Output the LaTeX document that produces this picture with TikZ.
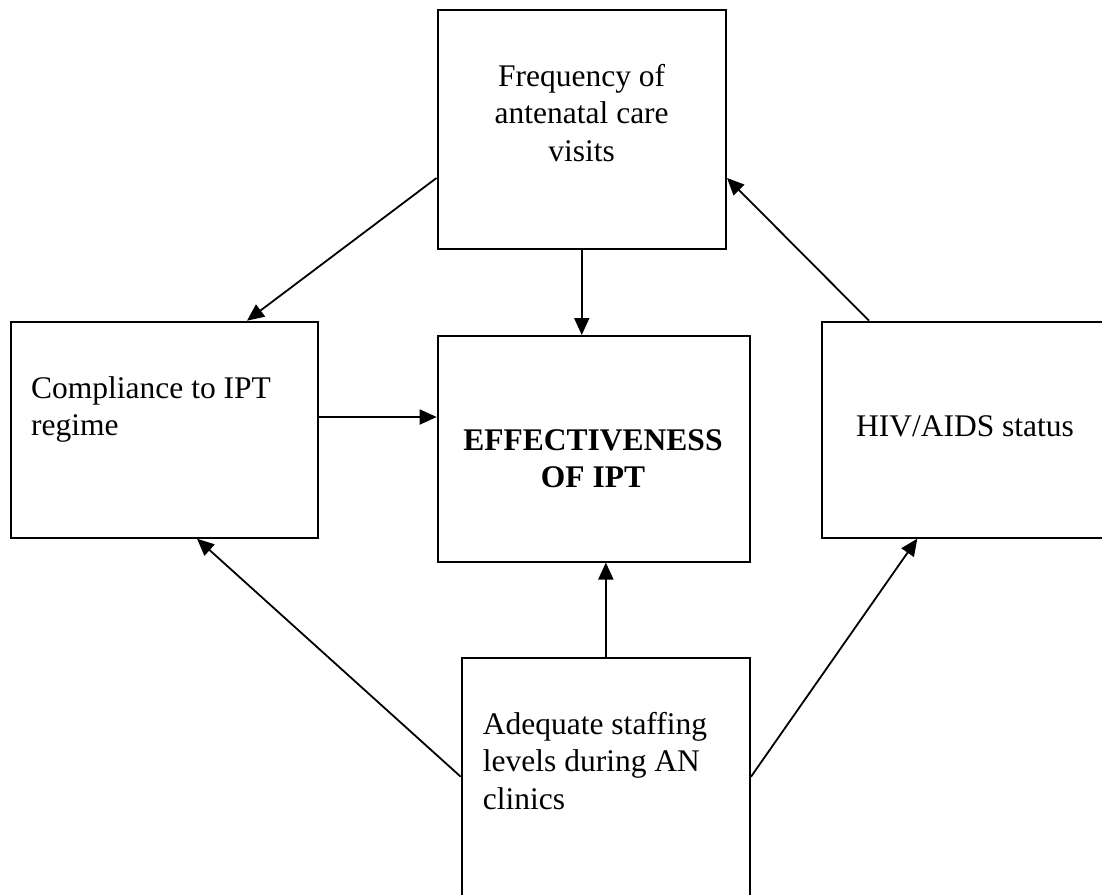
\documentclass[tikz,border=0pt]{standalone}
\usepackage{fontspec}
\setmainfont{Liberation Serif}
\usetikzlibrary{arrows.meta}
\tikzset{
  box/.style={draw, line width=2pt, rectangle, inner sep=0pt},
  lbl/.style={inner sep=0pt, font=\fontsize{31.5}{37.5}\selectfont},
  arr/.style={line width=1.8pt, -{Triangle[length=17pt,width=15pt]}}
}
\begin{document}
\begin{tikzpicture}[x=1pt,y=-1pt]
\useasboundingbox (0,0) rectangle (1102,894);
% boxes
\node[box, minimum width=288.5pt, minimum height=239pt] (top) at (581.75,129.5) {};
\node[box, minimum width=307.3pt, minimum height=216pt] (left) at (164.35,429.7) {};
\node[box, minimum width=312.3pt, minimum height=225.5pt] (eff) at (593.85,448.75) {};
\node[box, minimum width=286.6pt, minimum height=216pt] (right) at (965,429.7) {};
\node[box, minimum width=288.3pt, minimum height=244pt] (bottom) at (605.85,780) {};
% texts
\node[lbl, anchor=base] (ttop) at (581.7,86) {\parbox[t]{280pt}{\centering Frequency of\\antenatal care\\visits}};
\node[lbl, anchor=base west] (tleft) at (31,398) {\parbox[t]{285pt}{\raggedright Compliance to IPT\\regime}};
\node[lbl, anchor=base] (teff) at (593,450) {\parbox[t]{300pt}{\centering\bfseries EFFECTIVENESS\\OF IPT}};
\node[lbl, anchor=base] (tright) at (965,436) {HIV/AIDS status};
\node[lbl, anchor=base west] (tbottom) at (482.7,734) {\parbox[t]{260pt}{\raggedright Adequate staffing\\levels during AN\\clinics}};
% arrows
\draw[arr] (top.west |- 0,178) -- (left.north -| 247,0);
\draw[arr] (top.south) -- (top.south |- eff.north);
\draw[arr] (left.east |- 0,417) -- (eff.west |- 0,417);
\draw[arr] (right.north -| 869,0) -- (top.east |- 0,178);
\draw[arr] (bottom.west |- 0,776.7) -- (left.south -| 197,0);
\draw[arr] (bottom.north) -- (bottom.north |- eff.south);
\draw[arr] (bottom.east |- 0,776.7) -- (right.south -| 917.3,0);
\end{tikzpicture}
\end{document}
